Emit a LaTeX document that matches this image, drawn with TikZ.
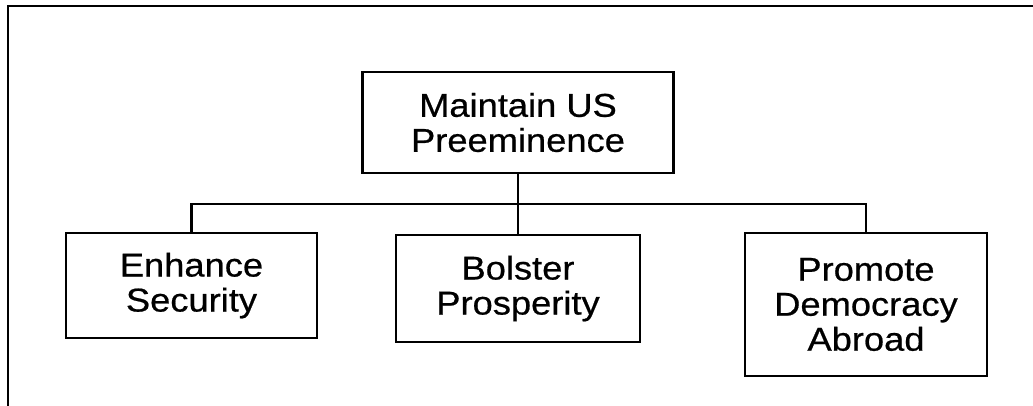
\documentclass[tikz,border=0pt]{standalone}
\usepackage{fontspec}
\setmainfont[FakeStretch=1.1,FakeBold=0.6]{Liberation Sans}
\begin{document}
\begin{tikzpicture}[x=1pt,y=1pt,
  goalbox/.style={draw, line width=2.2pt, align=center, inner sep=0pt,
    font=\fontsize{33}{35}\selectfont},
  link/.style={line width=2.2pt},
  frameline/.style={line width=2.8pt}]
\useasboundingbox (0,0) rectangle (1033,406);
\draw[frameline] (8,0) -- (8,400) -- (1033,400);
\node[goalbox, minimum width=311pt, minimum height=101pt] (top) at (518,283.5) {Maintain US\\Preeminence};
\node[goalbox, minimum width=251pt, minimum height=105pt] (enh) at (191.5,120.5) {Enhance\\Security};
\node[goalbox, minimum width=244pt, minimum height=107pt] (bol) at (518,117.5) {Bolster\\Prosperity};
\node[goalbox, minimum width=242pt, minimum height=143pt] (pro) at (866,101.5) {Promote\\Democracy\\Abroad};
\coordinate (bus) at (518,202);
\draw[link] (top.south) -- (top.south |- bus);
\draw[link] (enh.north) -- (enh.north |- bus) -- (pro.north |- bus) -- (pro.north);
\draw[link] (top.south |- bus) -- (bol.north);
\end{tikzpicture}
\end{document}
